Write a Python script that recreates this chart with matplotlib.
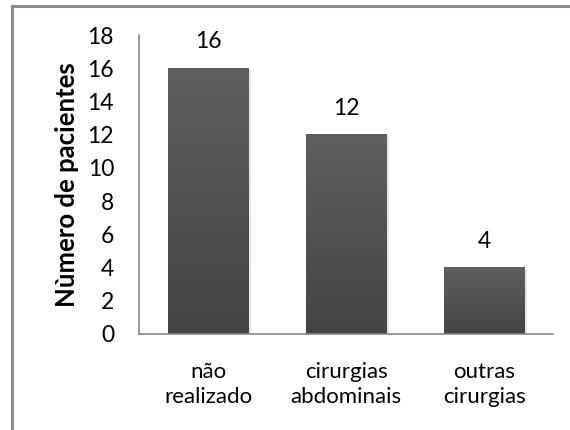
import numpy as np
import matplotlib
matplotlib.use("Agg")
import matplotlib.pyplot as plt
from matplotlib.patches import Rectangle
from matplotlib.lines import Line2D

categorias = ["não\nrealizado", "cirurgias\nabdominais", "outras\ncirurgias"]
pacientes = [16, 12, 4]
yticks = [0, 2, 4, 6, 8, 10, 12, 14, 16, 18]

plt.rcParams['font.family'] = ['Lato', 'DejaVu Sans']

W, H = 570, 430
fig = plt.figure(figsize=(W / 100, H / 100), dpi=100)

# moldura do gráfico (cortada à direita e em baixo, como no original)
fig.add_artist(Line2D([11.5 / W, 11.5 / W], [0, 1 - 5.5 / H], transform=fig.transFigure,
                      color='#8c8c8c', lw=2.2))
fig.add_artist(Line2D([11.5 / W, 1], [1 - 5.5 / H, 1 - 5.5 / H], transform=fig.transFigure,
                      color='#8c8c8c', lw=2.2))

# eixo: x 139..553, y 35..334 px
ax = fig.add_axes([139 / W, 1 - 334 / H, (553 - 139) / W, (334 - 35) / H])

largura = 0.58
grad = np.linspace(0, 1, 256).reshape(-1, 1)
cmap = matplotlib.colors.LinearSegmentedColormap.from_list('g', ['#444444', '#5f5f5f'])
for i, v in enumerate(pacientes):
    x0 = i - largura / 2
    # sombra leve
    ax.add_patch(Rectangle((x0 + 0.02, 0), largura, v - 0.08, color='#d0d0d0',
                           alpha=0.5, lw=0, zorder=1))
    ax.imshow(grad, extent=[x0, x0 + largura, 0, v], origin='lower', cmap=cmap,
              aspect='auto', zorder=2)
    ax.text(i, v + 0.95, str(v), ha='center', va='bottom', fontsize=16.5, color='black')
ax.set_xlim(-0.5, len(categorias) - 0.5)
ax.set_ylim(0, 18)

ax.set_yticks(yticks)
ax.set_yticklabels([str(t) for t in yticks], fontsize=16.5)
ax.set_xticks(range(len(categorias)))
ax.set_xticklabels(categorias, fontsize=16, linespacing=1.35)
ax.tick_params(axis='both', length=0)
ax.tick_params(axis='x', pad=20)
ax.tick_params(axis='y', pad=18)

for s in ['top', 'right']:
    ax.spines[s].set_visible(False)
for s in ['left', 'bottom']:
    ax.spines[s].set_color('#888888')
    ax.spines[s].set_linewidth(1.2)

ax.set_ylabel("Nùmero de pacientes", fontsize=18.5, fontweight='bold', labelpad=6)

fig.savefig("out.png", dpi=100)
